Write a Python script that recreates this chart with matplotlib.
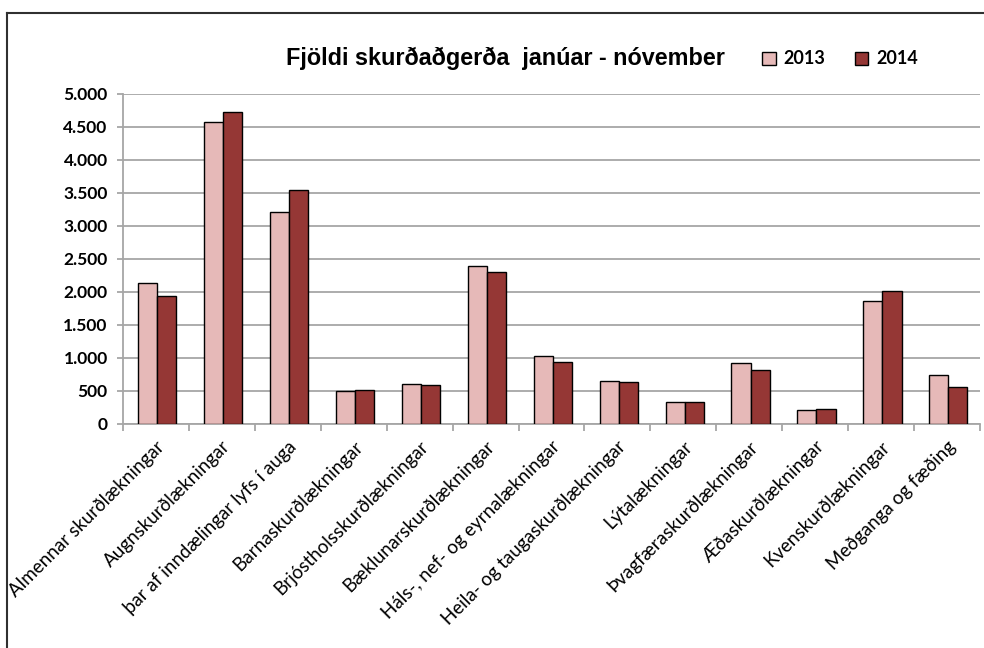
import matplotlib
matplotlib.use('Agg')
import matplotlib.pyplot as plt
from matplotlib.lines import Line2D
from matplotlib.ticker import FuncFormatter, FixedLocator
import numpy as np

categories = [
    'Almennar skurðlækningar', 'Augnskurðlækningar', 'þar af inndælingar lyfs í auga',
    'Barnaskurðlækningar', 'Brjóstholsskurðlækningar', 'Bæklunarskurðlækningar',
    'Háls-, nef- og eyrnalækningar', 'Heila- og taugaskurðlækningar', 'Lýtalækningar',
    'Þvagfæraskurðlækningar', 'Æðaskurðlækningar', 'Kvenskurðlækningar', 'Meðganga og fæðing',
]
values_2013 = [2140, 4570, 3210, 495, 605, 2395, 1030, 655, 340, 925, 210, 1860, 745]
values_2014 = [1940, 4720, 3545, 520, 585, 2300, 945, 630, 340, 815, 230, 2015, 565]
series_labels = ['2013', '2014']
yticks = list(range(0, 5001, 500))

col_2013 = '#E6B9B8'
col_2014 = '#953735'
grid_col = '#A6A6A6'

fig = plt.figure(figsize=(9.84, 6.48), dpi=100)
ax = fig.add_axes([0.125, 0.3457, 0.8709, 0.5093])

x = np.arange(len(categories))
w = 0.29
b1 = ax.bar(x - w / 2 + 0.02, values_2013, w, color=col_2013, edgecolor='black', linewidth=1, zorder=3, label=series_labels[0])
b2 = ax.bar(x + w / 2 + 0.02, values_2014, w, color=col_2014, edgecolor='black', linewidth=1, zorder=3, label=series_labels[1])

ax.set_xlim(-0.5, len(categories) - 0.5)
ax.set_ylim(0, 5000)
ax.set_yticks(yticks)
ax.yaxis.set_major_formatter(FuncFormatter(lambda v, p: f'{int(v):,}'.replace(',', '.')))
ax.grid(axis='y', color=grid_col, linewidth=1.3, zorder=0)

for s in ['top', 'right']:
    ax.spines[s].set_visible(False)
for s in ['left', 'bottom']:
    ax.spines[s].set_color(grid_col)
    ax.spines[s].set_linewidth(1.3)

ax.set_xticks(x)
ax.set_xticklabels(categories, rotation=45, ha='right', rotation_mode='anchor',
                   fontsize=13.5, family='Lato')
ax.tick_params(axis='x', which='major', length=0, pad=10)
ax.xaxis.set_minor_locator(FixedLocator(np.arange(-0.5, len(categories), 1.0)))
ax.tick_params(axis='x', which='minor', length=5, color=grid_col, width=1.3)
ax.tick_params(axis='y', length=4, color=grid_col, width=1.3, pad=7)
for t in ax.get_yticklabels():
    t.set_fontweight('bold')
    t.set_fontsize(12.5)
    t.set_family('Lato')

fig.text(0.514, 0.9105, 'Fjöldi skurðaðgerða  janúar - nóvember', ha='center', va='center',
         fontsize=16.8, fontweight='bold', family='Liberation Sans')

leg = fig.legend(handles=[b1, b2], labels=series_labels, loc='center left',
                 bbox_to_anchor=(0.758, 0.909), ncol=2, frameon=False,
                 handlelength=0.75, handleheight=0.75, handletextpad=0.45,
                 columnspacing=1.6, prop={'family': 'Lato', 'weight': 'bold', 'size': 13})

# outer chart border (left and top edges)
fig.add_artist(Line2D([0.0071, 0.0071], [0.0, 0.98], color='#303030', linewidth=1.5, transform=fig.transFigure))
fig.add_artist(Line2D([0.0071, 1.0], [0.98, 0.98], color='#303030', linewidth=1.5, transform=fig.transFigure))

fig.savefig('out.png', dpi=100)
